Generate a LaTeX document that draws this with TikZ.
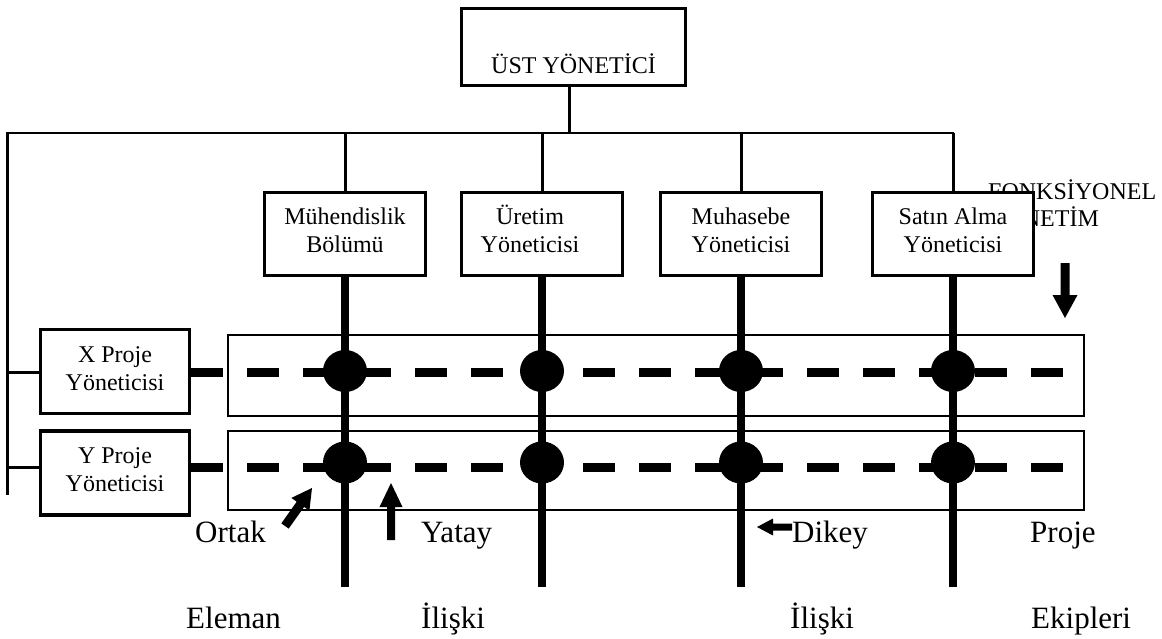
\documentclass[tikz,border=0pt]{standalone}
\usepackage{fontspec}
\setmainfont{Liberation Serif}
\usetikzlibrary{shapes.geometric}
\newcommand\boxfont{\fontsize{24pt}{27.5pt}\selectfont}
\newcommand\lblfont{\fontsize{31pt}{36pt}\selectfont}
\begin{document}
\begin{tikzpicture}[x=1pt,y=-1pt,
  boxbase/.style={draw, line width=3.5pt, fill=white, align=center, font=\boxfont, inner sep=0pt},
  topbox/.style={boxbase, minimum width=224pt, minimum height=77pt, text height=58pt, text depth=4pt},
  deptbox/.style={boxbase, minimum width=161pt, minimum height=83pt, text height=56pt, text depth=20pt},
  pmbox/.style={boxbase, minimum width=149pt, minimum height=84pt, text height=57pt, text depth=20pt},
  teambox/.style={draw, line width=2pt, inner sep=0pt},
  thinline/.style={line width=2.2pt},
  dropline/.style={line width=3pt},
  vline/.style={line width=8pt},
  dashline/.style={line width=9pt, dash pattern=on 32pt off 24pt},
  dot/.style={ellipse, fill=black, minimum width=44pt, minimum height=42pt, inner sep=0pt},
  lbl/.style={font=\lblfont, anchor=base west, inner sep=0pt},
  note/.style={font=\boxfont, anchor=base west, inner sep=0pt, align=left},
  blockarrow/.style={fill=black}
]
\path[use as bounding box] (0,0) rectangle (1162,639);

% functional management note (partly hidden by the box)
\node[note] (fonk) at (988,227) {FONKSİYONEL\\YÖNETİM};

% top of org chart
\coordinate (hL) at (7.5,133);
\coordinate (hR) at (954,133);
\coordinate (vB) at (7.5,495);
\coordinate (bot) at (0,587);
\node[topbox] (top) at (573.5,47) {ÜST YÖNETİCİ};
\draw[line width=3.5pt] ([xshift=-4pt]top.south) -- ([xshift=-4pt]top.south |- hL);
\draw[thinline] (hR) -- (hL) -- (vB);

\node[deptbox] (muh) at (345,234) {Mühendislik\\Bölümü};
\node[deptbox] (ure) at (542,234) {Üretim\hspace*{24pt}\\Yöneticisi\hspace*{24pt}};
\node[deptbox] (mhs) at (741,234) {Muhasebe\\Yöneticisi};
\node[deptbox] (sat) at (953,234) {Satın Alma\\Yöneticisi};
\foreach \d in {muh,ure,mhs,sat}{
  \draw[dropline] (\d.north) -- (\d.north |- hL);
}

% project managers
\node[pmbox] (xpm) at (115,371.5) {X Proje\\Yöneticisi};
\node[pmbox, text height=56pt] (ypm) at (115,473) {Y Proje\\Yöneticisi};
\coordinate (lx) at (7.5,372.5);
\coordinate (ly) at (7.5,467.5);
\draw[thinline] (lx) -- (lx -| xpm.west);
\draw[thinline] (ly) -- (ly -| ypm.west);

% project teams
\node[teambox, minimum width=856.5pt, minimum height=81pt] (teamx) at (655.75,375.5) {};
\node[teambox, minimum width=856.5pt, minimum height=79pt] (teamy) at (655.75,470.5) {};

\coordinate (dxs) at (191,372.5);
\coordinate (dxe) at (1063,372.5);
\coordinate (dys) at (191,467.5);
\coordinate (dye) at (1063,467.5);
\draw[dashline] (dxs) -- (dxe);
\draw[dashline] (dys) -- (dye);

\foreach \d in {muh,ure,mhs,sat}{
  \draw[vline] (\d.south) -- (\d.south |- bot);
}
\foreach \d/\x in {muh/345,ure/542,mhs/741,sat/953}{
  \node[dot] (\d x) at (\x,371) {};
  \node[dot] (\d y) at (\x,462.5) {};
}

% block arrows
\fill[blockarrow] (1060.5,263) -- (1069.5,263) -- (1069.5,295) -- (1077.5,295) -- (1065,318) -- (1052.5,295) -- (1060.5,295) -- cycle;
\fill[blockarrow] (387,540) -- (395,540) -- (395,507) -- (402.5,507) -- (391,483) -- (379.5,507) -- (387,507) -- cycle;
\fill[blockarrow] (792,523.5) -- (792,530.5) -- (773,530.5) -- (773,535.5) -- (757,527) -- (773,518.5) -- (773,523.5) -- cycle;
\fill[blockarrow] (281.3,523.4) -- (296.7,501.7) -- (291.4,497.9) -- (312,488) -- (309.4,510.7) -- (304.1,506.9) -- (288.7,528.6) -- cycle;

% labels
\node[lbl] (ortak) at (195,542) {Ortak};
\node[lbl] (yatay) at (421,542) {Yatay};
\node[lbl] (dikey) at (792,542) {Dikey};
\node[lbl] (proje) at (1030,542) {Proje};
\node[lbl] (eleman) at (186,628) {Eleman};
\node[lbl] (iliski1) at (421,628) {İlişki};
\node[lbl] (iliski2) at (790,628) {İlişki};
\node[lbl] (ekip) at (1031,628) {Ekipleri};
\end{tikzpicture}
\end{document}
